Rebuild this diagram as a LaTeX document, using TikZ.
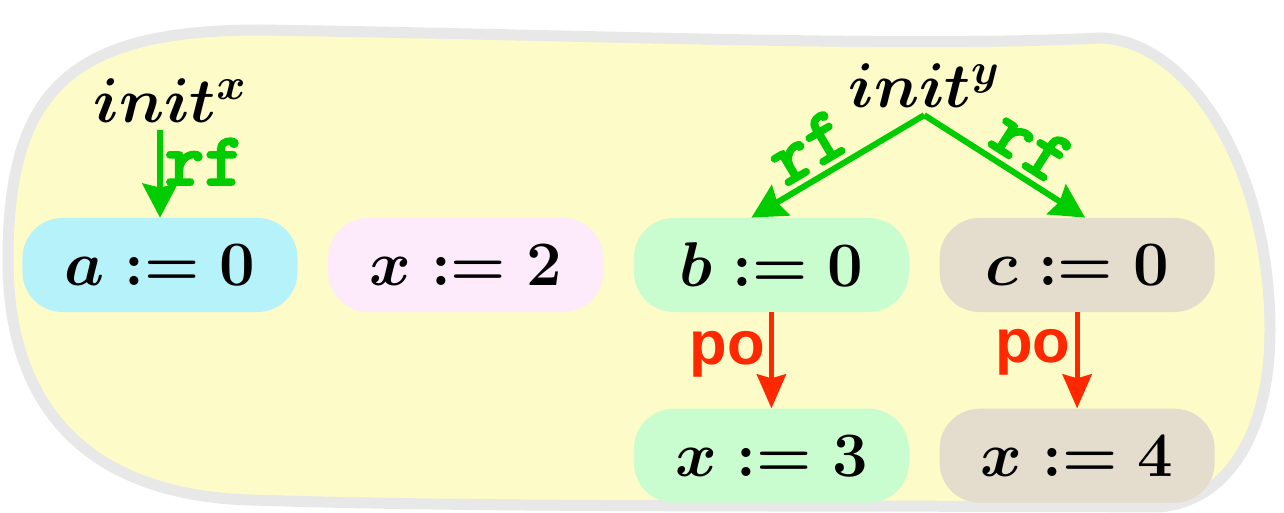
\RequirePackage{fix-cm}
\documentclass[tikz,border=0pt]{standalone}
\usepackage{fontspec}
\usepackage{tikz}
\usetikzlibrary{arrows.meta, positioning, calc}

\newfontfamily\posans{Liberation Sans}
\newfontfamily\rfmono{lmmonolt10-bold}[Extension=.otf, FakeBold=2.5]
\newcommand{\evfont}{\fontsize{36}{42}\selectfont\boldmath}
\newcommand{\rffont}{\rfmono\fontsize{43}{46}\selectfont}
\newcommand{\pofont}{\posans\bfseries\fontsize{35}{40}\selectfont}

\definecolor{blobfill}{RGB}{253,252,200}
\definecolor{blobedge}{RGB}{232,232,232}
\definecolor{boxblue}{RGB}{182,242,250}
\definecolor{boxpink}{RGB}{253,234,250}
\definecolor{boxgreen}{RGB}{201,252,206}
\definecolor{boxtan}{RGB}{228,221,205}
\definecolor{rfgreen}{RGB}{0,204,0}
\definecolor{pored}{RGB}{255,40,0}

\begin{document}
\begin{tikzpicture}[
    node distance=0.6cm,
    event/.style={rectangle, rounded corners=0.8cm, minimum width=5.5cm, minimum height=1.88cm, font=\evfont},
    initnode/.style={inner sep=0.1cm, font=\evfont},
    rfline/.style={draw=rfgreen, line width=0.12cm, -{Stealth[length=0.68cm, width=0.7cm, inset=0.08cm]}},
    poline/.style={draw=pored, line width=0.1cm, -{Stealth[length=0.68cm, width=0.58cm, inset=0.08cm]}},
    rflabel/.style={text=rfgreen, font=\rffont, inner sep=1pt},
    polabel/.style={text=pored, font=\pofont, inner sep=1pt}
]
    \useasboundingbox (0,0) rectangle (25.68,10.24);

    % the sketched background blob
    \draw[blobedge, fill=blobfill, line width=0.22cm]
        (0.16,5.04) .. controls (0.16,8.44) and (1.40,9.64) .. (5.20,9.64)
        .. controls (12.00,9.54) and (18.00,9.28) .. (22.00,9.48)
        .. controls (23.80,9.44) and (25.40,6.84) .. (25.40,3.64)
        .. controls (25.40,1.64) and (24.60,0.24) .. (23.20,0.10)
        .. controls (16.00,0.14) and (10.00,0.08) .. (5.00,0.24)
        .. controls (1.80,0.34) and (0.16,2.04) .. cycle;

    \node [event, fill=boxblue] (a) at (3.2,4.94) {$a := 0$};
    \node [event, fill=boxpink, right=of a] (x2) {$x := 2$};
    \node [event, fill=boxgreen, right=of x2] (b) {$b := 0$};
    \node [event, fill=boxtan, right=of b] (c) {$c := 0$};
    \node [event, fill=boxgreen, below=1.92cm of b] (x3) {$x := 3$};
    \node [event, fill=boxtan, below=1.92cm of c] (x4) {$x := 4$};

    \node [initnode, above=1.8cm of a.north, xshift=0.2cm] (initx) {$init^x$};
    \coordinate (bc) at ($(b.north)!0.5!(c.north)$);
    \node [initnode, above=2.1cm of bc] (inity) {$init^y$};

    \draw [rfline] ([yshift=-0.05cm]initx.south -| a.north) -- node[rflabel, right, pos=0.36] {rf} (a.north);
    \draw [rfline] ([yshift=-0.05cm]inity.south) -- node[rflabel, sloped, above=0.08cm, pos=0.58] {rf} ([xshift=-0.4cm]b.north);
    \draw [rfline] ([yshift=-0.05cm]inity.south) -- node[rflabel, sloped, above=0.08cm, pos=0.56] {rf} ([xshift=0.16cm]c.north);

    \draw [poline] (b.south) -- node[polabel, left=0.05cm, pos=0.44] {po} (x3.north);
    \draw [poline] (c.south) -- node[polabel, left=0.05cm, pos=0.42] {po} (x4.north);

\end{tikzpicture}
\end{document}
